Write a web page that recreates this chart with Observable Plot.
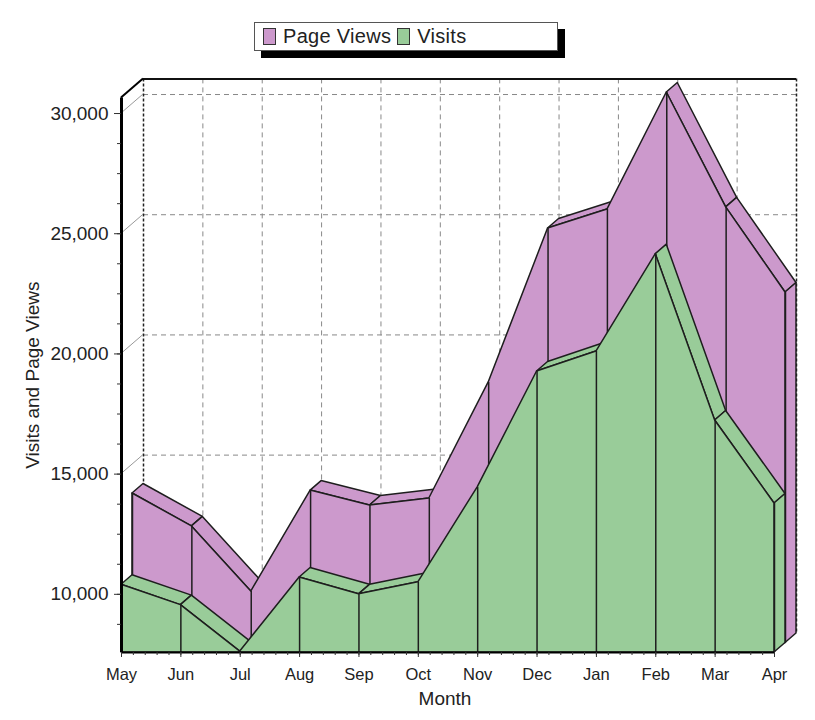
<!DOCTYPE html>
<html><head><meta charset="utf-8">
<script src="https://cdn.jsdelivr.net/npm/d3@7"></script>
<script src="https://cdn.jsdelivr.net/npm/@observablehq/plot@0.6"></script>
<style>
body{margin:0;background:#fff;}
#wrap{position:relative;width:815px;height:720px;font-family:"Liberation Sans",Arial,sans-serif;}
#wrap svg{position:absolute;left:0;top:0;}
#legend{position:absolute;left:254px;top:22px;width:302px;height:27px;border:1px solid #555;background:#fff;box-shadow:7px 7px 0 #000;display:flex;align-items:center;font-size:20px;color:#222;z-index:2;letter-spacing:0.3px}
.sw{display:inline-block;width:11px;height:15px;border:1px solid #333;margin:0 7px 0 8px}
</style></head>
<body><div id="wrap"></div>
<script>
const months = ["May","Jun","Jul","Aug","Sep","Oct","Nov","Dec","Jan","Feb","Mar","Apr"];
const visits = [10400, 9550, 7620, 10700, 10000, 10500, 14450, 19270, 20100, 24150, 17230, 13780];
const pageViews = [13800, 12430, 9720, 13920, 13300, 13590, 18420, 24820, 25610, 30480, 25700, 22160];
const yTicks = [10000, 15000, 20000, 25000, 30000];
const yMinorTicks = d3.range(8750, 30650, 1250);
const seriesNames = ["Page Views", "Visits"];
const seriesColors = ["#cc99cc", "#99cc99"];

const Y_MIN = 7580, Y_MAX = 30650;
const DEPTH = [22, -19];
const EDGE = "#1e1e1e";

const rows = months.map((m, i) => ({i, m, visits: visits[i], pv: pageViews[i]}));

function ribbon3d(key, fill, k0, k1) {
  return (index, scales) => {
    const {x, y} = scales;
    const g = d3.create("svg:g")
      .attr("stroke", EDGE).attr("stroke-width", 1.5)
      .attr("stroke-linejoin", "round").attr("fill", fill);
    const ax = DEPTH[0] * k0, ay = DEPTH[1] * k0, bx = DEPTH[0] * k1, by = DEPTH[1] * k1;
    const P = rows.map(r => [x(r.i), y(r[key])]);
    const slope = (by - ay) / (bx - ax);
    for (let k = 0; k < P.length - 1; k++) {
      const [x0, y0] = P[k], [x1, y1] = P[k + 1];
      if ((y1 - y0) / (x1 - x0) <= slope) continue;
      g.append("polygon").attr("points",
        [[x0 + ax, y0 + ay], [x1 + ax, y1 + ay], [x1 + bx, y1 + by], [x0 + bx, y0 + by]].join(" "));
    }
    const [xl, yl] = P[P.length - 1];
    const yb = y(Y_MIN);
    g.append("polygon").attr("points",
      [[xl + ax, yl + ay], [xl + bx, yl + by], [xl + bx, yb + by], [xl + ax, yb + ay]].join(" "));
    return g.node();
  };
}

function wallConnectors(index, scales) {
  const {x, y} = scales;
  const g = d3.create("svg:g").attr("fill", "none");
  const x0 = x(rows[0].i);
  for (const t of yTicks) {
    g.append("line").attr("x1", x0).attr("y1", y(t)).attr("x2", x0 + DEPTH[0]).attr("y2", y(t) + DEPTH[1])
      .attr("stroke", "#999").attr("stroke-width", 1);
  }
  g.append("line").attr("x1", x0).attr("y1", y(Y_MAX)).attr("x2", x0 + DEPTH[0]).attr("y2", y(Y_MAX) + DEPTH[1])
    .attr("stroke", "#000").attr("stroke-width", 2);
  return g.node();
}

const half = [DEPTH[0] / 2, DEPTH[1] / 2];
const first = rows[0].i, last = rows[rows.length - 1].i;

const chart = Plot.plot({
  width: 815,
  height: 720,
  marginLeft: 121,
  marginRight: 41,
  marginTop: 97.4,
  marginBottom: 68,
  style: {fontFamily: "Liberation Sans, Arial, sans-serif", color: "#111", background: "transparent"},
  x: {type: "linear", domain: [first, last], label: null},
  y: {domain: [Y_MIN, Y_MAX], label: null},
  marks: [
    // back wall grid
    Plot.ruleY(yTicks, {y: d => d, dx: DEPTH[0], dy: DEPTH[1], stroke: "#888", strokeDasharray: "5,4"}),
    Plot.ruleX(rows.slice(1, -1), {x: "i", dx: DEPTH[0], dy: DEPTH[1], stroke: "#888", strokeDasharray: "5,4"}),
    Plot.ruleX([first, last], {x: d => d, dx: DEPTH[0], dy: DEPTH[1], stroke: "#222", strokeWidth: 1.5, strokeDasharray: "3,2"}),
    Plot.ruleY([Y_MAX], {y: d => d, dx: DEPTH[0], dy: DEPTH[1], stroke: "#111", strokeWidth: 2}),
    wallConnectors,
    // Page Views ribbon (rear row)
    ribbon3d("pv", seriesColors[0], 0.5, 1),
    Plot.areaY(rows, {x: "i", y1: () => Y_MIN, y2: "pv", dx: half[0], dy: half[1], fill: seriesColors[0], stroke: EDGE, strokeWidth: 1.5, strokeLinejoin: "round"}),
    Plot.ruleX(rows, {x: "i", y1: () => Y_MIN, y2: "pv", dx: half[0], dy: half[1], stroke: EDGE, strokeWidth: 1.5}),
    // Visits ribbon (front row)
    ribbon3d("visits", seriesColors[1], 0, 0.5),
    Plot.areaY(rows, {x: "i", y1: () => Y_MIN, y2: "visits", fill: seriesColors[1], stroke: EDGE, strokeWidth: 1.5, strokeLinejoin: "round"}),
    Plot.ruleX(rows, {x: "i", y1: () => Y_MIN, y2: "visits", stroke: EDGE, strokeWidth: 1.5}),
    // axes
    Plot.ruleX([first], {x: d => d, stroke: "#000", strokeWidth: 3}),
    Plot.ruleY([Y_MIN], {y: d => d, stroke: "#000", strokeWidth: 2}),
    Plot.axisY({ticks: yMinorTicks, tickSize: 4, tickFormat: () => "", stroke: "#333", label: null}),
    Plot.axisY({ticks: yTicks, tickSize: 7, tickPadding: 6, tickFormat: d3.format(","), fontSize: 19, stroke: "#333", fill: "#222", label: null}),
    Plot.axisX({ticks: 55, tickSize: 3, tickFormat: () => "", stroke: "#333", label: null}),
    Plot.axisX({ticks: rows.map(r => r.i), tickSize: 5, tickPadding: 11, tickFormat: i => months[i], fontSize: 16.5, stroke: "#333", fill: "#222", label: null}),
    Plot.text(["Visits and Page Views"], {frameAnchor: "left", textAnchor: "middle", dx: -89, rotate: -90, fontSize: 19, fill: "#222", text: d => d}),
    Plot.text(["Month"], {frameAnchor: "bottom", dy: 52, dx: -3, fontSize: 19, fill: "#222", text: d => d})
  ]
});

const wrap = document.getElementById("wrap");
wrap.appendChild(chart);
const legend = document.createElement("div");
legend.id = "legend";
seriesNames.forEach((name, k) => {
  const sw = document.createElement("span");
  sw.className = "sw";
  sw.style.background = seriesColors[k];
  if (k > 0) sw.style.marginLeft = "6px";
  legend.appendChild(sw);
  legend.appendChild(document.createTextNode(name));
});
wrap.appendChild(legend);
</script>
</body></html>
